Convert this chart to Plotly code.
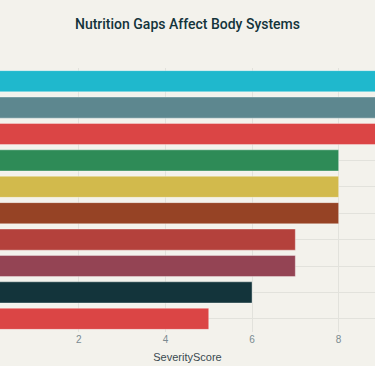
import plotly.graph_objects as go

systems = ["Immune System", "Nervous System", "Cardiovascular", "Skeletal System",
           "Muscular System", "Digestive System", "Skin & Hair", "Endocrine System",
           "Reproductive", "Eyes & Vision"]
severity = [9, 9, 9, 8, 8, 8, 7, 7, 6, 5]
colors = ["#1FB8CD", "#5D878F", "#DB4545", "#2E8B57", "#D2BA4C",
          "#964325", "#B4413C", "#944454", "#13343B", "#DB4545"]
x_ticks = [2, 4, 6, 8]

fig = go.Figure(go.Bar(
    x=severity,
    y=systems,
    orientation="h",
    marker=dict(color=colors, line=dict(color="rgba(255,255,255,0.35)", width=1)),
))

fig.update_layout(
    width=375, height=366,
    paper_bgcolor="#F3F2EC",
    plot_bgcolor="#F3F2EC",
    title=dict(text="Nutrition Gaps Affect Body Systems", x=0.5, xanchor="center",
               y=0.935, yanchor="middle",
               font=dict(family="Roboto, Arial, sans-serif", size=14,
                         weight=500, color="#13343B")),
    margin=dict(l=0, r=0, t=68, b=34),
    bargap=0.2,
    showlegend=False,
    font=dict(family="Liberation Sans, Arial, sans-serif"),
)
fig.update_xaxes(
    range=[0.18, 8.84],
    tickvals=x_ticks,
    ticktext=[str(v) for v in x_ticks],
    tickfont=dict(size=10, color="#7A8A90"),
    showgrid=True, gridcolor="#E2E2DC", gridwidth=1,
    zeroline=False, showline=False,
    title=dict(text="SeverityScore", font=dict(size=11, color="#3A4A50"), standoff=9),
)
fig.update_yaxes(
    categoryorder="array", categoryarray=systems[::-1],
    showticklabels=False,
    showgrid=True, gridcolor="#E2E2DC", gridwidth=1,
    zeroline=False, showline=False,
)

fig.write_html("out.html", config={"displayModeBar": False},
               post_script="document.body.style.margin='0';")
